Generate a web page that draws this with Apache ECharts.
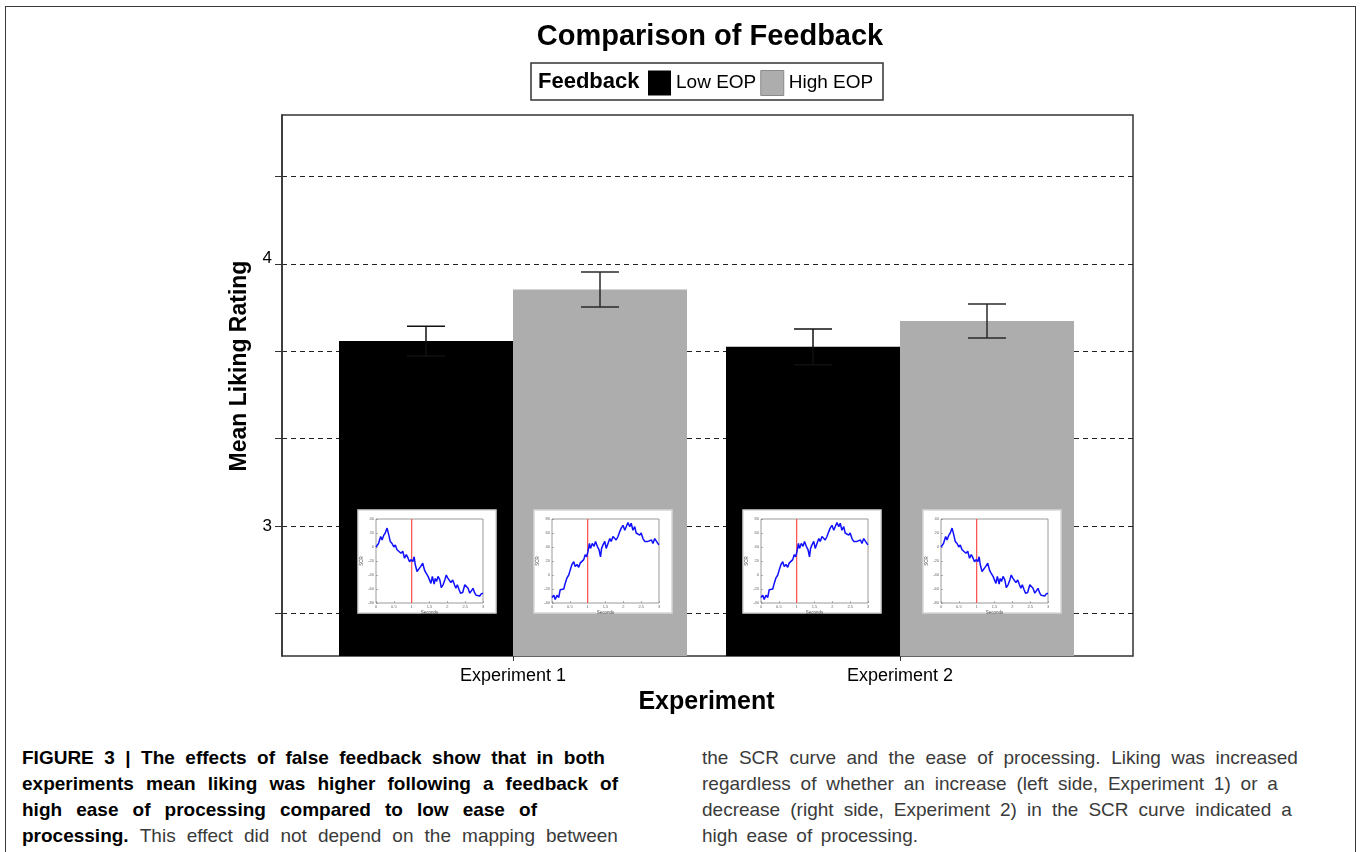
<!DOCTYPE html>
<html>
<head>
<meta charset="utf-8">
<script src="https://cdn.jsdelivr.net/npm/echarts@6/dist/echarts.min.js"></script>
<style>
  html, body { margin:0; padding:0; background:#fff; }
  body { width:1360px; height:852px; overflow:hidden; position:relative; font-family:"Liberation Sans", Arial, sans-serif; }
  #frame { position:absolute; left:5px; top:6px; width:1351px; height:900px; border:1.5px solid #3a3a3a; box-sizing:border-box; }
  #chart { position:absolute; left:0; top:0; width:1360px; height:740px; }
  .cap { position:absolute; display:flex; justify-content:space-between; font-size:19px; line-height:26px; height:26px; color:#3a3a3a; white-space:nowrap; }
  .cap b { color:#000; font-weight:bold; }
</style>
</head>
<body>
<div id="frame"></div>
<div id="chart"></div>
<div id="caption"></div>
<script>
// ---------- data ----------
const categories = ['Experiment 1', 'Experiment 2'];
const seriesNames = ['Low EOP', 'High EOP'];
const lowEOP = [3.706, 3.684];
const highEOP = [3.903, 3.783];
const lowSE = [0.057, 0.068];
const highSE = [0.067, 0.065];
const yMin = 2.504;
const yMax = 4.569;
const yTickValues = [2.6667, 3, 3.3333, 3.6667, 4, 4.3333];
const yLabelValues = [3, 4];

// inset SCR curves: [seconds, SCR]
const scrDecrease = [
  [0,0],[0.07,5],[0.13,15],[0.17,10],[0.22,17],[0.26,20],[0.31,27],[0.36,17],[0.4,8],[0.45,5],
  [0.5,0],[0.54,3],[0.59,-4],[0.64,-3],[0.7,-9],[0.75,-6],[0.8,-16],[0.85,-11],[0.9,-16],[0.94,-21],
  [0.99,-18],[1.03,-21],[1.07,-14],[1.1,-25],[1.15,-35],[1.2,-33],[1.25,-28],[1.31,-23],[1.36,-33],[1.4,-37],
  [1.46,-42],[1.5,-47],[1.54,-52],[1.58,-42],[1.63,-53],[1.66,-45],[1.7,-49],[1.74,-42],[1.79,-47],[1.83,-58],
  [1.88,-54],[1.93,-47],[1.97,-40],[2.01,-44],[2.06,-42],[2.1,-51],[2.15,-47],[2.2,-54],[2.24,-59],[2.28,-54],
  [2.33,-61],[2.37,-66],[2.43,-65],[2.49,-54],[2.53,-52],[2.58,-59],[2.63,-66],[2.67,-64],[2.72,-59],[2.77,-66],
  [2.81,-69],[2.86,-70],[2.91,-70],[2.95,-67],[3.0,-66]
];
const scrIncrease = [
  [0,-32],[0.05,-29],[0.09,-35],[0.14,-29],[0.19,-32],[0.23,-21],[0.28,-19],[0.33,-20],[0.37,-12],[0.42,-4],
  [0.47,0],[0.51,7],[0.56,15],[0.61,19],[0.65,12],[0.7,15],[0.75,11],[0.79,17],[0.84,15],[0.89,22],
  [0.93,29],[0.97,26],[1.01,34],[1.05,45],[1.08,38],[1.13,45],[1.18,41],[1.22,48],[1.27,41],[1.32,36],
  [1.36,26],[1.39,38],[1.43,43],[1.48,48],[1.52,38],[1.57,45],[1.62,52],[1.66,48],[1.71,55],[1.76,57],
  [1.8,50],[1.85,55],[1.9,62],[1.94,67],[1.99,71],[2.04,64],[2.08,69],[2.13,75],[2.18,69],[2.22,74],
  [2.27,64],[2.32,69],[2.36,60],[2.41,62],[2.46,57],[2.5,60],[2.55,52],[2.6,48],[2.64,50],[2.69,48],
  [2.74,48],[2.79,50],[2.83,45],[2.88,52],[2.93,48],[2.97,45],[3.0,43]
];
const feedbackTime = 1;
const decreaseRange = [-80, 40];
const increaseRange = [-40, 80];

// ---------- layout ----------
const FONT = '"Liberation Sans", Arial, sans-serif';
const frameBox = { left: 282, top: 115, width: 851, height: 541 };
const barGrid = { left: 319.5, top: 115, width: 774, height: 541 };
const BAR_W = 174;
const insets = [
  { x: 358, y: 510, curve: scrDecrease, range: decreaseRange },
  { x: 534, y: 510, curve: scrIncrease, range: increaseRange },
  { x: 743, y: 510, curve: scrIncrease, range: increaseRange },
  { x: 923, y: 510, curve: scrDecrease, range: decreaseRange }
];

function errorSeries(means, ses, sign, color) {
  return {
    type: 'custom', xAxisIndex: 1, yAxisIndex: 1, z: 3, silent: true,
    data: means.map((m, i) => [i, m, ses[i]]),
    renderItem: function (params, api) {
      const i = api.value(0), m = api.value(1), se = api.value(2);
      const top = api.coord([i, m + se]);
      const bot = api.coord([i, m - se]);
      const x = top[0] + sign * BAR_W / 2;
      const hw = 19;
      const st = { stroke: color, lineWidth: 1.5 };
      return { type: 'group', children: [
        { type: 'line', shape: { x1: x, y1: top[1], x2: x, y2: bot[1] }, style: st },
        { type: 'line', shape: { x1: x - hw, y1: top[1], x2: x + hw, y2: top[1] }, style: st },
        { type: 'line', shape: { x1: x - hw, y1: bot[1], x2: x + hw, y2: bot[1] }, style: st }
      ]};
    }
  };
}

const grids = [
  Object.assign({ show: true, borderColor: '#333', borderWidth: 1.5, backgroundColor: 'transparent' }, frameBox),
  Object.assign({}, barGrid)
];
const xAxes = [
  { gridIndex: 0, type: 'value', min: 0, max: 1, show: false },
  { gridIndex: 1, type: 'category', data: categories,
    axisLine: { show: false },
    axisTick: { show: true, alignWithLabel: true, length: 5, lineStyle: { color: '#333', width: 1 } },
    axisLabel: { fontSize: 18, color: '#000', margin: 11, fontFamily: FONT },
    name: 'Experiment', nameLocation: 'middle', nameGap: 28,
    nameTextStyle: { fontSize: 25, fontWeight: 'bold', color: '#000', fontFamily: FONT } }
];
const yAxes = [
  { gridIndex: 0, type: 'value', min: yMin, max: yMax,
    axisLine: { show: true, lineStyle: { color: '#333', width: 1.5 } },
    axisTick: { show: true, length: 7, customValues: yTickValues, lineStyle: { color: '#333', width: 1 } },
    axisLabel: { customValues: yLabelValues, fontSize: 17, color: '#000', margin: 10, fontFamily: FONT,
      formatter: function (v) { return v === 4 ? '{up|' + v + '}' : '{n|' + v + '}'; },
      rich: { up: { fontSize: 17, padding: [0, 0, 12, 0], fontFamily: FONT, color: '#000' }, n: { fontSize: 17, fontFamily: FONT, color: '#000' } } },
    splitLine: { show: true, lineStyle: { type: [5, 4], color: '#222', width: 1 } } },
  { gridIndex: 1, type: 'value', min: yMin, max: yMax, show: false, splitLine: { show: false } }
];
const series = [
  { name: seriesNames[0], type: 'bar', xAxisIndex: 1, yAxisIndex: 1, data: lowEOP, barWidth: BAR_W, barGap: '0%',
    itemStyle: { color: '#000' }, z: 2, silent: true },
  { name: seriesNames[1], type: 'bar', xAxisIndex: 1, yAxisIndex: 1, data: highEOP, barWidth: BAR_W, barGap: '0%',
    itemStyle: { color: '#adadad' }, z: 2, silent: true },
  errorSeries(lowEOP, lowSE, -1, '#111'),
  errorSeries(highEOP, highSE, 1, '#2a2a2a')
];
const graphics = [
  { type: 'rect', shape: { x: 531, y: 63, width: 352, height: 37 }, style: { fill: 'none', stroke: '#333', lineWidth: 1.5 }, z: 5 },
  { type: 'text', x: 538, y: 82, style: { text: 'Feedback', fontSize: 22, fontWeight: 'bold', fontFamily: FONT, fill: '#000', align: 'left', verticalAlign: 'middle' }, z: 5 },
  { type: 'text', x: 240, y: 366, rotation: Math.PI / 2, style: { text: 'Mean Liking Rating', fontSize: 23, fontWeight: 'bold', fontFamily: FONT, fill: '#000', align: 'center', verticalAlign: 'middle' }, z: 5 }
];

insets.forEach(function (ins, k) {
  const gi = 2 + k;
  graphics.push({ type: 'rect', z: 10, shape: { x: ins.x, y: ins.y, width: 138, height: 103 },
    style: { fill: '#fff', stroke: '#d6d6d6', lineWidth: 1.5 } });
  grids.push({ left: ins.x + 18, top: ins.y + 9, width: 107, height: 84, show: true,
    backgroundColor: '#fff', borderColor: '#808080', borderWidth: 0.8, z: 11 });
  xAxes.push({ gridIndex: gi, type: 'value', min: 0, max: 3, interval: 0.5, z: 12,
    axisLine: { show: false, onZero: false },
    axisTick: { show: true, inside: true, length: 2, lineStyle: { color: '#808080', width: 0.6 } },
    axisLabel: { fontSize: 4, color: '#666', margin: 2, fontFamily: FONT },
    splitLine: { show: false },
    name: 'Seconds', nameLocation: 'middle', nameGap: 7, nameTextStyle: { fontSize: 4.5, color: '#555', fontFamily: FONT } });
  yAxes.push({ gridIndex: gi, type: 'value', min: ins.range[0], max: ins.range[1], interval: 20, z: 12,
    axisLine: { show: false, onZero: false },
    axisTick: { show: true, inside: true, length: 2, lineStyle: { color: '#808080', width: 0.6 } },
    axisLabel: { fontSize: 4, color: '#666', margin: 2, fontFamily: FONT },
    splitLine: { show: false },
    name: 'SCR', nameLocation: 'middle', nameGap: 10, nameRotate: 90, nameTextStyle: { fontSize: 4.5, color: '#555', fontFamily: FONT } });
  series.push({ type: 'line', xAxisIndex: gi, yAxisIndex: gi,
    data: [[feedbackTime, ins.range[0]], [feedbackTime, ins.range[1]]],
    symbol: 'none', showSymbol: false, silent: true, z: 13,
    lineStyle: { color: '#ff4a4a', width: 1.2 } });
  series.push({ type: 'line', xAxisIndex: gi, yAxisIndex: gi, data: ins.curve, symbol: 'none', showSymbol: false,
    silent: true, z: 14, lineStyle: { color: '#1010ff', width: 1.5 } });
});

const chart = echarts.init(document.getElementById('chart'), null, { renderer: 'canvas' });
chart.setOption({
  animation: false,
  textStyle: { fontFamily: FONT },
  title: { text: 'Comparison of Feedback', left: 705, top: 17, textAlign: 'center',
    textStyle: { fontSize: 29, fontWeight: 'bold', color: '#000', fontFamily: FONT } },
  legend: { data: [{ name: seriesNames[0] }, { name: seriesNames[1], itemStyle: { color: '#adadad', borderColor: '#8a8a8a', borderWidth: 1 } }],
    left: 648, top: 70, itemWidth: 23, itemHeight: 25, itemGap: 4, icon: 'rect', padding: 0,
    textStyle: { fontSize: 19, color: '#000', fontFamily: FONT }, selectedMode: false },
  grid: grids,
  xAxis: xAxes,
  yAxis: yAxes,
  series: series,
  graphic: graphics
});

// ---------- caption ----------
const captionLines = [
  { x: 22, y: 745, w: 583, boldWords: 99, text: 'FIGURE 3 | The effects of false feedback show that in both' },
  { x: 22, y: 771, w: 596, boldWords: 99, text: 'experiments mean liking was higher following a feedback of' },
  { x: 22, y: 797, w: 515, boldWords: 99, text: 'high ease of processing compared to low ease of' },
  { x: 22, y: 823, w: 596, boldWords: 1, text: 'processing. This effect did not depend on the mapping between' },
  { x: 702, y: 745, w: 596, boldWords: 0, text: 'the SCR curve and the ease of processing. Liking was increased' },
  { x: 702, y: 771, w: 576, boldWords: 0, text: 'regardless of whether an increase (left side, Experiment 1) or a' },
  { x: 702, y: 797, w: 590, boldWords: 0, text: 'decrease (right side, Experiment 2) in the SCR curve indicated a' },
  { x: 702, y: 823, w: 216, boldWords: 0, text: 'high ease of processing.' }
];
const capRoot = document.getElementById('caption');
captionLines.forEach(function (ln) {
  const d = document.createElement('div');
  d.className = 'cap';
  d.style.left = ln.x + 'px';
  d.style.top = ln.y + 'px';
  d.style.width = ln.w + 'px';
  ln.text.split(' ').forEach(function (wd, i) {
    const el = document.createElement(i < ln.boldWords ? 'b' : 'span');
    el.textContent = wd;
    d.appendChild(el);
  });
  capRoot.appendChild(d);
});
</script>
</body>
</html>
